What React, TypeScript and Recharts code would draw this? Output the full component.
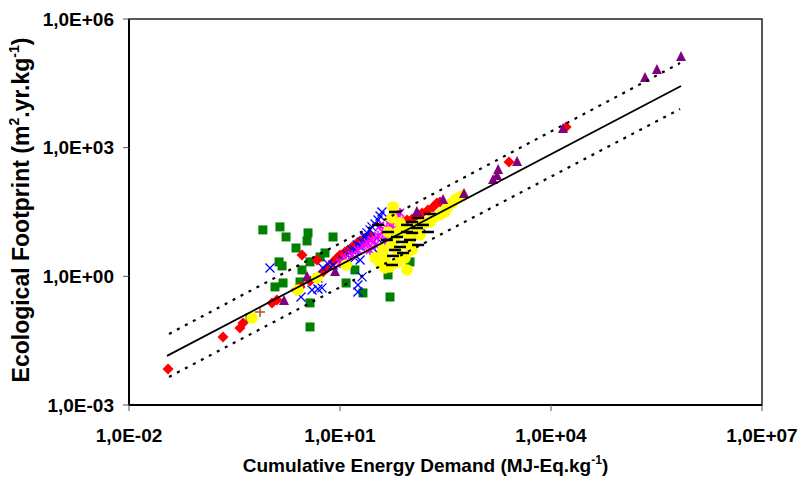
import { ScatterChart, Scatter, XAxis, YAxis, ReferenceArea } from "recharts";

// axis ticks (log scale, every 3 decades)
const xTicks = [1e-2, 1e1, 1e4, 1e7];
const yTicks = [1e-3, 1e0, 1e3, 1e6];

// [CED, EF] pairs per product group
const greenSquares: [number, number][] = [
  [0.8, 12.1], [1.4, 14.2], [1.71, 8.28], [3.51, 10.3], [3.4, 6.68], [7.96, 8.28],
  [1.36, 2.17], [1.5, 1.75], [2.88, 1.41], [3.75, 2.17], [5.2, 2.83], [6.12, 3.51],
  [1.19, 0.566], [1.55, 0.7], [2.7, 0.74], [3.75, 0.24], [3.75, 0.066], [0.525, 0.107],
  [12.2, 0.7], [16.3, 1.41], [21.2, 0.41], [51.4, 0.33], [48.2, 1.08], [98.9, 2.17],
  [2.37, 4.59], [129, 9.23],
];
const redDiamonds: [number, number][] = [
  [0.0359, 0.00693], [0.217, 0.0386], [0.378, 0.0627], [0.418, 0.082], [1.08, 0.24],
  [1.27, 0.282], [2.37, 0.482], [2.7, 0.566], [2.88, 3.16], [3.75, 0.78], [4.71, 2.41],
  [5.73, 1.27], [6.53, 1.57], [7.96, 2.17], [9.06, 2.69], [10, 3.16], [11.8, 3.71],
  [13, 4.12], [14.8, 4.84], [17.5, 6.01], [19.3, 6.68], [22.7, 7.85], [26.7, 9.23],
  [76.2, 18.5], [89.7, 20.6], [106, 21.8], [124, 25.6], [147, 30.1], [178, 35.3],
  [210, 41.5], [239, 51.4], [264, 54.2], [2530, 464], [16400, 3040],
];
const blueCrosses: [number, number][] = [
  [1.01, 1.57], [2.79, 0.331], [4.0, 0.482], [4.86, 0.508], [5.54, 0.537], [4.86, 0.918],
  [5.73, 1.57], [6.76, 1.95], [7.96, 1.84], [11, 2.41], [13.9, 3.51], [17.5, 5.39],
  [20.6, 6.34], [24.2, 10.3], [28.5, 14.2], [34.7, 20.6], [39.5, 31.7], [19.3, 2.41],
  [29.4, 4.59], [33.6, 7.85], [20.6, 0.97], [18, 0.63], [18, 0.433], [147, 13.4],
  [16.3, 4.12], [22.7, 7.85], [12.6, 3.16], [14.8, 4.12], [19.3, 5.11], [22.7, 8.75],
  [26.7, 12.1], [31.5, 16.6], [37.1, 25.6], [16.3, 2.69],
];
const magentaStars: [number, number][] = [
  [10, 2.05], [11.8, 2.69], [14.8, 3.16], [18, 4.12], [21.2, 5.11], [25, 6.01],
  [28.5, 7.05], [34.7, 8.75], [40.8, 10.8], [46.5, 13.4], [51.4, 15.8], [56.7, 18.5],
  [64.7, 23], [71.3, 30.1], [43.6, 7.05], [31.5, 5.39], [54.9, 12.1], [37.1, 15],
  [26.7, 4.12],
];
const yellowCircles: [number, number][] = [
  [0.561, 0.107], [2.53, 0.482], [4.71, 0.918], [12.2, 1.84], [37.1, 2.05], [43.6, 2.69],
  [51.4, 1.66], [64.7, 3.71], [84, 2.69], [89.7, 5.39], [98.9, 7.05], [56.7, 41.5],
  [71.3, 17.6], [60.5, 7.05], [48.2, 10.8], [54.9, 23], [117, 13.4], [137, 15.8],
  [162, 17.6], [210, 23], [264, 27], [333, 39.3], [392, 51.4], [477, 67.2], [543, 74.8],
  [89.7, 1.41], [43.6, 1.57], [40.8, 4.12], [54.9, 5.39], [66.8, 10.8], [78.7, 13.4],
  [92.7, 9.23], [106, 4.12], [66.8, 2.17], [31.5, 2.69], [311, 31.7], [431, 60.4],
  [191, 18.5], [137, 9.23],
];
const blackDashes: [number, number][] = [
  [60.5, 31.7], [89.7, 15.8], [106, 18.5], [129, 23], [191, 28.5], [48.2, 10.8],
  [64.7, 8.28], [89.7, 10.8], [106, 10.3], [124, 13.4], [178, 10.8], [76.2, 6.34],
  [71.3, 4.84], [46.5, 7.05], [60.5, 4.12], [78.7, 3.51], [56.7, 2.99], [129, 5.39],
  [98.9, 7.05], [54.9, 1.84], [34.7, 15.8], [151, 15.8],
];
const purpleTriangles: [number, number][] = [
  [706000, 130000], [321000, 64700], [217000, 42200], [14800, 2730], [3290, 464],
  [1770, 302], [1710, 219], [1500, 177], [580, 83.4], [292, 60.4], [124, 31.7],
  [8.5, 1.27], [3.4, 0.97], [1.6, 0.267],
];
const brownPlus: [number, number][] = [[0.73, 0.148]];

// regression line and its band (end points)
const fitX = [0.0347, 706000];
const fitY = [0.01396, 27400];
const bandX = [0.0371, 684000];
const upperY = [0.0454, 94000];
const lowerY = [0.00452, 7980];

const toPts = (arr: [number, number][]) => arr.map(([x, y]) => ({ x, y }));
const linePts = (xs: number[], ys: number[]) => xs.map((x, i) => ({ x, y: ys[i] }));

const FONT = "'Liberation Sans', Arial, sans-serif";

function fmtTick(v: number) {
  const e = Math.round(Math.log10(v));
  return "1,0E" + (e < 0 ? "-" : "+") + String(Math.abs(e)).padStart(2, "0");
}

// marker shapes
const Square = (p: any) => <rect x={p.cx - 4.5} y={p.cy - 4.5} width={9} height={9} fill="#008000" />;
const Diamond = (p: any) => (
  <polygon points={`${p.cx},${p.cy - 5.5} ${p.cx + 5.5},${p.cy} ${p.cx},${p.cy + 5.5} ${p.cx - 5.5},${p.cy}`} fill="#FF0000" />
);
const Triangle = (p: any) => (
  <polygon points={`${p.cx},${p.cy - 6} ${p.cx + 5},${p.cy + 4} ${p.cx - 5},${p.cy + 4}`} fill="#800080" />
);
const XMark = (p: any) => (
  <path d={`M${p.cx - 4.5},${p.cy - 4.5}L${p.cx + 4.5},${p.cy + 4.5}M${p.cx - 4.5},${p.cy + 4.5}L${p.cx + 4.5},${p.cy - 4.5}`} stroke="#0000FF" strokeWidth={1.3} />
);
const Star = (p: any) => (
  <path d={`M${p.cx - 4},${p.cy - 4}L${p.cx + 4},${p.cy + 4}M${p.cx - 4},${p.cy + 4}L${p.cx + 4},${p.cy - 4}M${p.cx},${p.cy - 5}L${p.cx},${p.cy + 5}`} stroke="#FF00FF" strokeWidth={1.6} />
);
const Circle = (p: any) => <circle cx={p.cx} cy={p.cy} r={5.8} fill="#FFFF00" />;
const Dash = (p: any) => <line x1={p.cx - 6} x2={p.cx + 6} y1={p.cy} y2={p.cy} stroke="#000" strokeWidth={2.5} />;
const Plus = (p: any) => (
  <path d={`M${p.cx - 5},${p.cy}L${p.cx + 5},${p.cy}M${p.cx},${p.cy - 5}L${p.cx},${p.cy + 5}`} stroke="#B3541E" strokeWidth={1.5} />
);
const NoDot = () => <g />;

const XTitle = ({ viewBox }: any) => {
  const cx = viewBox.x + viewBox.width / 2 - 20;
  return (
    <text x={cx} y={472} textAnchor="middle" fontFamily={FONT} fontWeight="bold" fontSize={19} fill="#000">
      Cumulative Energy Demand (MJ-Eq.kg<tspan fontSize={12} dy={-8}>-1</tspan><tspan dy={8}>)</tspan>
    </text>
  );
};

const YTitle = ({ viewBox }: any) => {
  const cy = viewBox.y + viewBox.height / 2 - 2;
  return (
    <text x={0} y={0} transform={`translate(29, ${cy}) rotate(-90)`} textAnchor="middle" fontFamily={FONT} fontWeight="bold" fontSize={23} fill="#000">
      Ecological Footprint (m<tspan fontSize={14} dy={-10}>2</tspan><tspan dy={10}>.yr.kg</tspan><tspan fontSize={14} dy={-10}>-1</tspan><tspan dy={10}>)</tspan>
    </text>
  );
};

export default function App() {
  const tick = { fontFamily: FONT, fontWeight: "bold", fontSize: 19, fill: "#000" };
  return (
    <div style={{ position: "absolute", left: 0, top: 0, background: "#fff" }}>
      <ScatterChart width={805} height={491} margin={{ top: 19, right: 43, bottom: 0, left: 0 }}>
        <XAxis
          dataKey="x" type="number" scale="log" domain={[1e-2, 1e7]} ticks={xTicks} interval={0}
          allowDataOverflow tickFormatter={fmtTick} tick={tick} height={86} tickSize={6} tickMargin={18}
          axisLine={{ stroke: "#000", strokeWidth: 2 }} tickLine={{ stroke: "#555" }} label={<XTitle />}
        />
        <YAxis
          dataKey="y" type="number" scale="log" domain={[1e-3, 1e6]} ticks={yTicks} interval={0}
          allowDataOverflow tickFormatter={fmtTick} tick={tick} width={129} tickSize={6} tickMargin={9}
          axisLine={{ stroke: "#000", strokeWidth: 2 }} tickLine={{ stroke: "#555" }} label={<YTitle />}
        />
        <ReferenceArea x1={1e-2} x2={1e7} y1={1e-3} y2={1e6} fill="none" stroke="#222" strokeWidth={1.5} ifOverflow="visible" />
        <Scatter data={toPts(greenSquares)} shape={Square} isAnimationActive={false} />
        <Scatter data={toPts(redDiamonds)} shape={Diamond} isAnimationActive={false} />
        <Scatter data={toPts(blueCrosses)} shape={XMark} isAnimationActive={false} />
        <Scatter data={toPts(magentaStars)} shape={Star} isAnimationActive={false} />
        <Scatter data={toPts(yellowCircles)} shape={Circle} isAnimationActive={false} />
        <Scatter data={toPts(blackDashes)} shape={Dash} isAnimationActive={false} />
        <Scatter data={toPts(purpleTriangles)} shape={Triangle} isAnimationActive={false} />
        <Scatter data={toPts(brownPlus)} shape={Plus} isAnimationActive={false} />
        <Scatter data={linePts(fitX, fitY)} shape={NoDot} line={{ stroke: "#000", strokeWidth: 1.8 }} isAnimationActive={false} />
        <Scatter data={linePts(bandX, upperY)} shape={NoDot} line={{ stroke: "#000", strokeWidth: 2.2, strokeDasharray: "3 6" }} isAnimationActive={false} />
        <Scatter data={linePts(bandX, lowerY)} shape={NoDot} line={{ stroke: "#000", strokeWidth: 2.2, strokeDasharray: "3 6" }} isAnimationActive={false} />
      </ScatterChart>
    </div>
  );
}
